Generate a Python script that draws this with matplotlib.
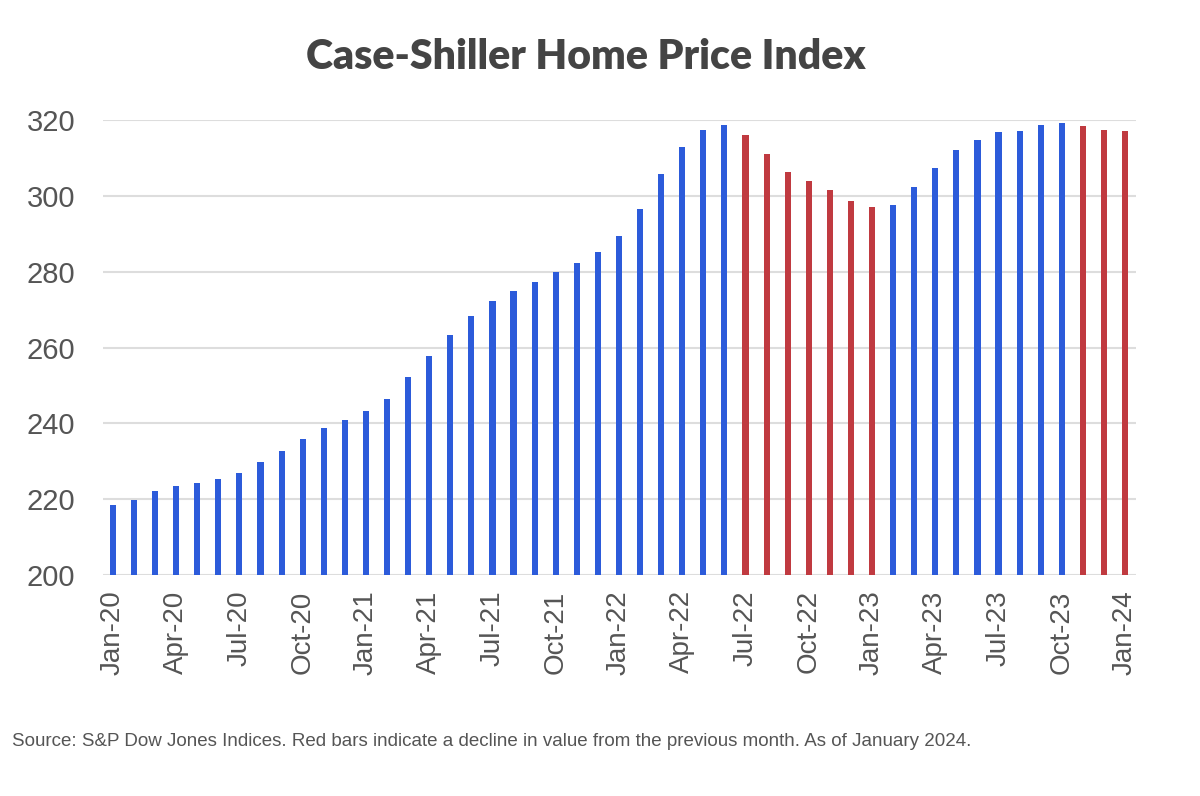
import matplotlib.pyplot as plt
import numpy as np

# Case-Shiller index, monthly Jan-20 .. Jan-24
values = [218.5, 219.7, 222.2, 223.6, 224.4, 225.2, 227.0, 229.7, 232.8, 235.9,
          238.7, 240.8, 243.3, 246.4, 252.2, 257.8, 263.2, 268.4, 272.3, 274.8,
          277.3, 279.8, 282.4, 285.3, 289.4, 296.6, 305.8, 312.9, 317.3, 318.7,
          316.1, 311.1, 306.4, 304.0, 301.5, 298.7, 297.0, 297.7, 302.4, 307.4,
          312.1, 314.8, 316.8, 317.0, 318.7, 319.1, 318.3, 317.3, 317.2]
tick_labels = ["Jan-20", "Apr-20", "Jul-20", "Oct-20", "Jan-21", "Apr-21",
               "Jul-21", "Oct-21", "Jan-22", "Apr-22", "Jul-22", "Oct-22",
               "Jan-23", "Apr-23", "Jul-23", "Oct-23", "Jan-24"]
yticks = [200, 220, 240, 260, 280, 300, 320]

blue = "#2C5BDA"
red = "#C03A40"

x = np.arange(len(values))
vals = np.array(values)
# red where the index fell from the month before
decline = np.r_[False, np.diff(vals) < 0]
colors = [red if d else blue for d in decline]

fig = plt.figure(figsize=(12, 7.96), dpi=100)
ax = fig.add_axes([0.0858, 0.2776, 0.8609, 0.5716])

ax.bar(x, vals - 200, bottom=200, width=0.29, color=colors, zorder=3)

ax.set_ylim(200, 320)
ax.set_xlim(-0.47, 48.52)
ax.set_yticks(yticks)
ax.set_yticklabels([str(v) for v in yticks], fontsize=21, color="#555555",
                   family="Liberation Sans")
ax.set_xticks(x[::3])
ax.set_xticklabels(tick_labels, rotation=90, fontsize=20, color="#555555",
                   family="Liberation Sans")
ax.tick_params(length=0, pad=11)
ax.tick_params(axis="y", pad=20)
ax.grid(axis="y", color="#dddddd", lw=1.5, zorder=0)
for s in ax.spines.values():
    s.set_visible(False)

fig.text(0.488, 0.928, "Case-Shiller Home Price Index", ha="center", va="center",
         fontsize=29.5, fontweight="heavy", color="#444444", family="Lato")
fig.text(0.01, 0.068, "Source: S&P Dow Jones Indices. Red bars indicate a decline in value "
         "from the previous month. As of January 2024.", ha="left", va="center",
         fontsize=13.5, color="#555555", family="Liberation Sans")

fig.savefig("out.png", dpi=100, facecolor="white")
